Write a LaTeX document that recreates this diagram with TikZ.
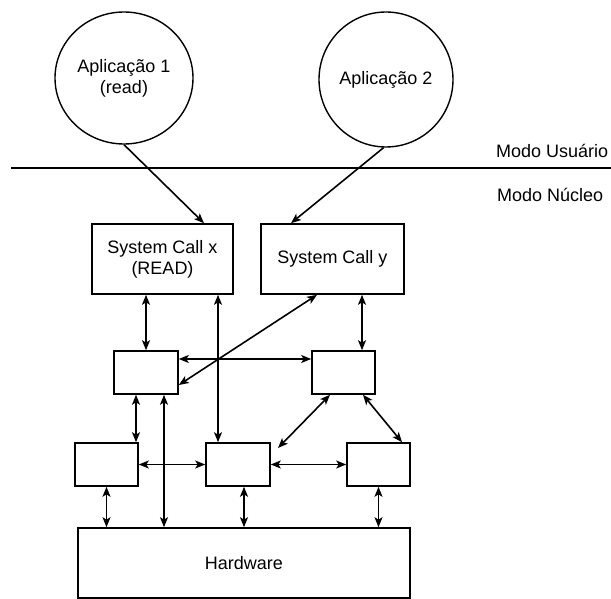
\documentclass[tikz,border=0pt]{standalone}
\usepackage{fontspec}
\setmainfont{Liberation Sans}
\usetikzlibrary{arrows.meta,shapes.geometric}
\begin{document}
\begin{tikzpicture}[x=1pt,y=-1pt,
  every node/.style={font=\fontsize{18}{21}\selectfont},
  app/.style={draw, ellipse, line width=1.4pt, inner sep=0pt, align=center},
  box/.style={draw, rectangle, line width=1.6pt, inner sep=0pt, align=center},
  lbl/.style={anchor=base west, inner sep=0pt},
  arr/.style={line width=1.6pt, -{Stealth[length=10pt,width=8pt,inset=2.5pt]}},
  dbl/.style={line width=1.6pt, {Stealth[length=10pt,width=8pt,inset=2.5pt]}-{Stealth[length=10pt,width=8pt,inset=2.5pt]}},
  sep/.style={line width=1.3pt}]
\useasboundingbox (0,0) rectangle (611,599);

% applications
\node[app, minimum width=138pt, minimum height=132pt] (c1) at (124,78) {Aplicação 1\\(read)};
\node[app, minimum width=134pt, minimum height=135pt] (c2) at (386,79.5) {Aplicação 2};

% mode separator
\coordinate (l0) at (11,168);
\coordinate (l1) at (611,168);
\draw[sep] (l0) -- (l1);
\node[lbl] (mu) at (496,158) {Modo Usuário};
\node[lbl] (mn) at (497,202) {Modo Núcleo};

% boxes
\node[box, minimum width=141pt, minimum height=70pt] (scx) at (162.5,259) {System Call x\\(READ)};
\node[box, minimum width=143pt, minimum height=70pt] (scy) at (332.5,259) {System Call y};
\node[box, minimum width=64pt, minimum height=43pt] (a) at (146,372.5) {};
\node[box, minimum width=63pt, minimum height=43pt] (b) at (343.5,372.5) {};
\node[box, minimum width=63pt, minimum height=43pt] (c) at (106.5,464.5) {};
\node[box, minimum width=64pt, minimum height=43pt] (d) at (238,464.5) {};
\node[box, minimum width=63pt, minimum height=43pt] (e) at (378.5,464.5) {};
\node[box, minimum width=332pt, minimum height=70pt] (hw) at (244,563) {Hardware};

% helper coordinates
\coordinate (x204) at (204,0);
\coordinate (x291) at (291,0);
\coordinate (x218) at (218,0);
\coordinate (x317) at (317,0);
\coordinate (x362) at (362,0);
\coordinate (x136) at (136,0);
\coordinate (x164) at (164,0);
\coordinate (x330) at (330,0);
\coordinate (x363) at (363,0);
\coordinate (x402) at (402,0);
\coordinate (x244) at (244,0);
\coordinate (y385) at (0,385);
\coordinate (y359) at (0,359);
\coordinate (bd) at (278,448);

% connectors
\draw[arr] (c1.south) -- (scx.north -| x204);
\draw[arr] (c2.-92) -- (scy.north -| x291);
\draw[dbl] (scx.south -| a.north) -- (a.north);
\draw[dbl] (scx.south -| x218) -- (d.north -| x218);
\draw[dbl] (scy.south -| x317) -- (a.east |- y385);
\draw[dbl] (a.east |- y359) -- (b.west |- y359);
\draw[dbl] (scy.south -| x362) -- (b.north -| x362);
\draw[dbl] (a.south -| x136) -- (c.north -| x136);
\draw[dbl] (a.south -| x164) -- (hw.north -| x164);
\draw[dbl] (c.east) -- (d.west);
\draw[dbl] (d.east) -- (e.west);
\draw[dbl] (b.south -| x330) -- (bd);
\draw[dbl] (b.south -| x363) -- (e.north -| x402);
\draw[dbl] (c.south) -- (c.south |- hw.north);
\draw[dbl] (d.south -| x244) -- (hw.north -| x244);
\draw[dbl] (e.south) -- (e.south |- hw.north);
\end{tikzpicture}
\end{document}
